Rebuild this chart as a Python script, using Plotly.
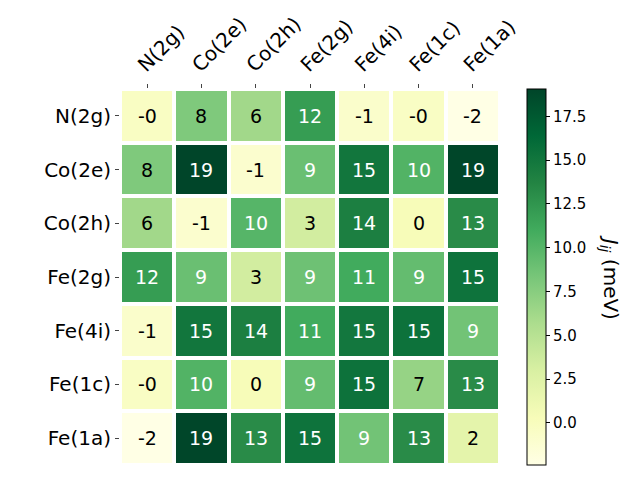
import plotly.graph_objects as go

labels = ["N(2g)", "Co(2e)", "Co(2h)", "Fe(2g)", "Fe(4i)", "Fe(1c)", "Fe(1a)"]

row_N2g = [-0.3, 8.0, 6.2, 12.0, -0.8, -0.4, -2.4]
row_Co2e = [8.0, 19.06, -1.0, 9.0, 15.0, 10.2, 19.0]
row_Co2h = [6.2, -1.0, 10.0, 3.4, 14.2, 0.3, 13.2]
row_Fe2g = [12.0, 9.0, 3.4, 8.8, 11.0, 9.3, 15.3]
row_Fe4i = [-0.8, 15.0, 14.2, 11.0, 14.9, 15.4, 8.6]
row_Fe1c = [-0.4, 10.2, 0.3, 9.3, 15.4, 6.8, 13.2]
row_Fe1a = [-2.4, 19.0, 13.2, 15.3, 8.6, 13.2, 2.0]

z = [row_N2g, row_Co2e, row_Co2h, row_Fe2g, row_Fe4i, row_Fe1c, row_Fe1a]

ylgn = ["#ffffe5", "#f7fcb9", "#d9f0a3", "#addd8e", "#78c679",
        "#41ab5d", "#238443", "#006837", "#004529"]
colorscale = [[i / (len(ylgn) - 1), c] for i, c in enumerate(ylgn)]

zmin = min(min(r) for r in z)
zmax = max(max(r) for r in z)
mid = (zmin + zmax) / 2

fig = go.Figure(go.Heatmap(
    z=z, x=labels, y=labels, colorscale=colorscale,
    zmin=zmin, zmax=zmax, xgap=4, ygap=4,
    colorbar=dict(
        x=1.071, xanchor="left", xpad=0, y=0.5, yanchor="middle", ypad=0,
        len=1.0, lenmode="fraction", thickness=19,
        outlinecolor="black", outlinewidth=1,
        ticks="outside", ticklen=4, tickcolor="black",
        tickvals=[0, 2.5, 5, 7.5, 10, 12.5, 15, 17.5],
        ticktext=["0.0", "2.5", "5.0", "7.5", "10.0", "12.5", "15.0", "17.5"],
        tickfont=dict(size=15, color="black"),
    ),
))

annotations = []
for i, row in enumerate(z):
    for j, v in enumerate(row):
        annotations.append(dict(
            x=labels[j], y=labels[i], text=f"{v:.0f}", showarrow=False,
            font=dict(size=19, color="white" if v > mid else "black"),
        ))
annotations.append(dict(
    xref="paper", yref="paper", x=1.29, y=0.5, xanchor="center", yanchor="middle",
    text="<i>J</i><sub><i>ij</i></sub> (meV)", textangle=90, showarrow=False,
    font=dict(size=20, color="black"),
))

fig.update_layout(
    width=640, height=480,
    margin=dict(l=120, r=140, t=85, b=15),
    paper_bgcolor="white", plot_bgcolor="white",
    font=dict(family="DejaVu Sans", color="black"),
    annotations=annotations,
    xaxis=dict(side="top", tickangle=-45, ticks="outside", ticklen=4,
               ticklabelshift=-8,
               tickfont=dict(size=20), showgrid=False, zeroline=False,
               showline=False),
    yaxis=dict(autorange="reversed", ticks="outside", ticklen=4,
               tickfont=dict(size=20), showgrid=False, zeroline=False,
               showline=False),
)

fig.write_html("out.html")
